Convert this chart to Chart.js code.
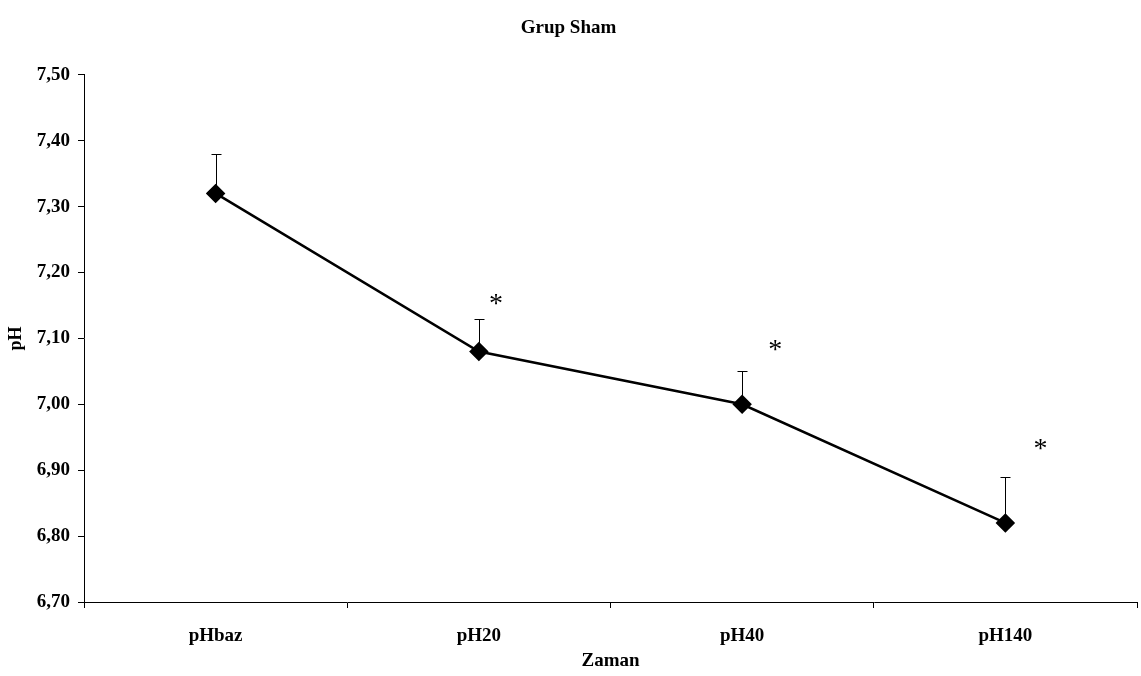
<!DOCTYPE html>
<html>
<head>
  <title>Grup Sham</title>
  <script src="https://cdn.jsdelivr.net/npm/chart.js@4.4.0/dist/chart.umd.min.js"></script>
  <style>
    html, body { margin: 0; padding: 0; background: #fff; }
    #wrap { width: 1141px; height: 676px; }
  </style>
</head>
<body>
  <div id="wrap"><canvas id="chart"></canvas></div>

  <script>
    // data
    const categories = ['pHbaz', 'pH20', 'pH40', 'pH140'];
    const meanPH = [7.32, 7.08, 7.00, 6.82];
    const upperPH = [7.38, 7.13, 7.05, 6.89];   // mean + SD (only the upper whisker is drawn)
    const starPH = [null, 7.16, 7.09, 6.94];     // where the significance marks sit
    const yTicks = [6.7, 6.8, 6.9, 7.0, 7.1, 7.2, 7.3, 7.4, 7.5];

    const serif = '"Liberation Serif", "Times New Roman", serif';

    // draws the upper error bars and the asterisks
    const extras = {
      id: 'extras',
      afterDatasetsDraw(chart) {
        const ctx = chart.ctx;
        const xs = chart.scales.x, ys = chart.scales.y;
        ctx.save();
        ctx.strokeStyle = '#000';
        ctx.lineWidth = 1;
        meanPH.forEach((m, i) => {
          const x = Math.round(xs.getPixelForValue(i)) + 0.5;
          const y0 = ys.getPixelForValue(m);
          const y1 = Math.round(ys.getPixelForValue(upperPH[i])) + 0.5;
          ctx.beginPath();
          ctx.moveTo(x, y0);
          ctx.lineTo(x, y1);
          ctx.moveTo(x - 5, y1);
          ctx.lineTo(x + 5, y1);
          ctx.stroke();
        });
        ctx.fillStyle = '#000';
        ctx.font = '28px ' + serif;
        ctx.textAlign = 'center';
        ctx.textBaseline = 'middle';
        const dx = [0, 17, 33, 35];
        starPH.forEach((s, i) => {
          if (s == null) return;
          ctx.fillText('*', xs.getPixelForValue(i) + dx[i], ys.getPixelForValue(s) + 6);
        });
        ctx.restore();
      }
    };

    new Chart(document.getElementById('chart'), {
      type: 'line',
      data: {
        labels: categories,
        datasets: [{
          data: meanPH,
          borderColor: '#000',
          backgroundColor: '#000',
          borderWidth: 2.5,
          pointStyle: 'rectRot',
          pointRadius: 8,
          pointHoverRadius: 8,
          tension: 0
        }]
      },
      options: {
        responsive: true,
        maintainAspectRatio: false,
        animation: false,
        layout: { autoPadding: false, padding: { left: 0, right: 4, top: 0, bottom: 0 } },
        plugins: {
          legend: { display: false },
          tooltip: { enabled: false },
          title: {
            display: true,
            text: 'Grup Sham',
            color: '#000',
            font: { family: serif, size: 19, weight: 'bold' },
            padding: { top: 17, bottom: 35 }
          }
        },
        scales: {
          x: {
            offset: true,
            afterFit(scale) { scale.height = 74; },
            grid: { drawOnChartArea: false, drawTicks: true, tickLength: 6, color: '#000', offset: true },
            border: { color: '#000', width: 1 },
            ticks: { color: '#000', padding: 17, font: { family: serif, size: 19, weight: 'bold' } },
            title: {
              display: true, text: 'Zaman', color: '#000',
              font: { family: serif, size: 19, weight: 'bold' },
              padding: { top: 6, bottom: 4 }
            }
          },
          y: {
            min: 6.7,
            max: 7.5,
            afterBuildTicks(scale) { scale.ticks = yTicks.map(v => ({ value: v })); },
            afterFit(scale) { scale.width = 84; },
            grid: { drawOnChartArea: false, drawTicks: true, tickLength: 6, color: '#000' },
            border: { color: '#000', width: 1 },
            ticks: {
              color: '#000', padding: 8,
              font: { family: serif, size: 19, weight: 'bold' },
              callback: v => v.toFixed(2).replace('.', ',')
            },
            title: {
              display: true, text: 'pH', color: '#000',
              font: { family: serif, size: 18, weight: 'bold' },
              padding: { top: 6, bottom: 4 }
            }
          }
        }
      },
      plugins: [extras]
    });
  </script>
</body>
</html>
